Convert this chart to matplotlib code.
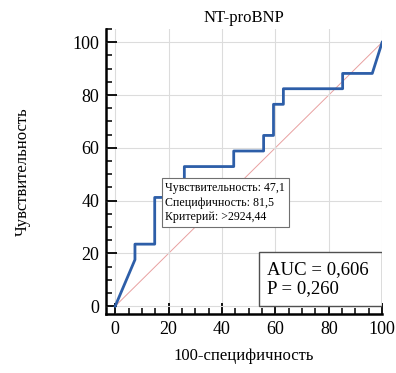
import matplotlib
matplotlib.use("Agg")
import matplotlib.pyplot as plt
from matplotlib.patches import Rectangle
from matplotlib.ticker import MultipleLocator

# ROC curve points (100-specificity, sensitivity)
fpr = [0, 7.4, 7.4, 14.8, 14.8, 18.5, 18.5, 25.9, 25.9, 44.4, 44.4, 55.6, 55.6,
       59.3, 59.3, 63.0, 63.0, 85.2, 85.2, 96.3, 100]
tpr = [0, 17.6, 23.5, 23.5, 41.2, 41.2, 47.1, 47.1, 52.9, 52.9, 58.8, 58.8, 64.7,
       64.7, 76.5, 76.5, 82.4, 82.4, 88.2, 88.2, 100]

title = "NT-proBNP"
xlabel = "100-специфичность"
ylabel = "Чувствительность"
cut_point = (18.8, 47.1)
cut_text = "Чувствительность: 47,1\nСпецифичность: 81,5\nКритерий: >2924,44"
auc_text = "AUC = 0,606\nP = 0,260"

plt.rcParams["font.family"] = ["Liberation Serif", "DejaVu Serif"]

fig = plt.figure(figsize=(3.96, 3.73), dpi=100)
ax = fig.add_axes([0.268, 0.158, 0.697, 0.764])

ax.plot([0, 100], [0, 100], color="#e8a0a0", lw=0.7, zorder=2)
ax.plot(fpr, tpr, color="#2d5ea8", lw=2, zorder=3)

ax.set_xlim(-3.4, 100)
ax.set_ylim(-3, 105)
ax.xaxis.set_major_locator(MultipleLocator(20))
ax.yaxis.set_major_locator(MultipleLocator(20))
ax.xaxis.set_minor_locator(MultipleLocator(5))
ax.yaxis.set_minor_locator(MultipleLocator(5))
ax.tick_params(which="major", direction="in", length=8, width=1.3, labelsize=13, pad=5)
ax.tick_params(which="minor", direction="in", length=4, width=1.1)
ax.grid(True, which="major", color="#dcdcdc", lw=0.8, zorder=0)
ax.set_axisbelow(False)

for s in ["top", "right"]:
    ax.spines[s].set_visible(False)
for s in ["left", "bottom"]:
    ax.spines[s].set_linewidth(1.8)

ax.set_title(title, fontsize=12, pad=5)
ax.set_xlabel(xlabel, fontsize=12, labelpad=7)
ax.set_ylabel(ylabel, fontsize=12, labelpad=30)

ax.text(cut_point[0], cut_point[1], cut_text, fontsize=8.6, va="top", ha="left",
        linespacing=1.3, zorder=5,
        bbox=dict(boxstyle="square,pad=0.3", fc="white", ec="#707070", lw=0.8))

ax.add_patch(Rectangle((54, 0), 46, 20.4, fc="white", ec="#505050", lw=1.0, zorder=4))
ax.text(57, 10.2, auc_text, fontsize=13.5, va="center", ha="left",
        linespacing=1.2, zorder=5)

fig.savefig("out.png", dpi=100)
